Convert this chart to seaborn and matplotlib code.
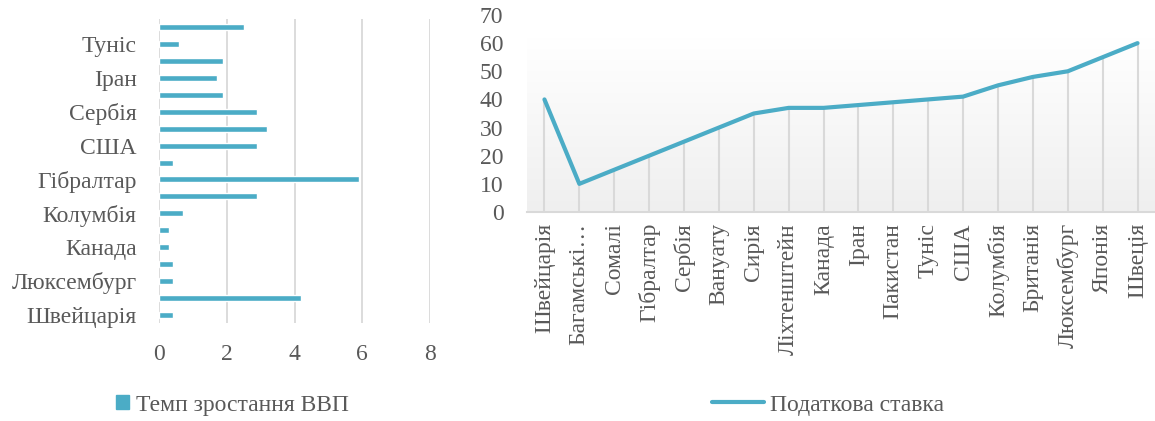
import numpy as np
import pandas as pd
import matplotlib
matplotlib.use("Agg")
import matplotlib.pyplot as plt
import seaborn as sns
from matplotlib.colors import LinearSegmentedColormap
from matplotlib.patches import Patch
from matplotlib.lines import Line2D

# ---- data: bar chart (bottom to top) ----
bar_countries = ["Швейцарія", "Швеція", "Люксембург", "Японія", "Канада", "Британія",
                 "Колумбія", "Ліхтенштейн", "Гібралтар", "Пакистан", "США", "Сирія",
                 "Сербія", "Вануату", "Іран", "Сомалі", "Туніс", "Багамські острови"]
gdp_growth = [0.4, 4.2, 0.4, 0.4, 0.3, 0.3, 0.7, 2.9, 5.9, 0.4, 2.9, 3.2,
              2.9, 1.9, 1.7, 1.9, 0.6, 2.5]
gdp_ticks = [0, 2, 4, 6, 8]

# ---- data: line chart ----
line_countries = ["Швейцарія", "Багамські…", "Сомалі", "Гібралтар", "Сербія", "Вануату",
                  "Сирія", "Ліхтенштейн", "Канада", "Іран", "Пакистан", "Туніс", "США",
                  "Колумбія", "Британія", "Люксембург", "Японія", "Швеція"]
tax_rate = [40, 10, 15, 20, 25, 30, 35, 37, 37, 38, 39, 40, 41, 45, 48, 50, 55, 60]
tax_ticks = [0, 10, 20, 30, 40, 50, 60, 70]

sns.set_theme(style="white")
plt.rcParams["font.family"] = ["Liberation Serif", "DejaVu Serif"]

TEXT = "#595959"
COLOR = "#4BACC6"
GRID = "#d9d9d9"
FS = 17

fig = plt.figure(figsize=(11.55, 4.21), dpi=100)

# ---------------- left: horizontal bars ----------------
ax1 = fig.add_axes([159 / 1155, (421 - 323) / 421, (430 - 159) / 1155, (323 - 19) / 421])
df1 = pd.DataFrame({"country": bar_countries, "gdp": gdp_growth})
n1 = len(bar_countries)
sns.barplot(data=df1, y="country", x="gdp", order=bar_countries[::-1], orient="h",
            color=COLOR, saturation=1, width=0.36, ax=ax1, zorder=3)
ax1.set_xlim(gdp_ticks[0], gdp_ticks[-1])
ax1.set_xticks(gdp_ticks)
ax1.set_xticklabels([str(t) for t in gdp_ticks])
ax1.set_ylim(n1 - 0.5, -0.5)
ax1.set_yticks([n1 - 1 - k for k in range(0, n1, 2)])
ax1.set_yticklabels(bar_countries[::2])
ax1.grid(axis="x", color=GRID, lw=1.3, zorder=0)
ax1.grid(axis="y", visible=False)
for s in ax1.spines.values():
    s.set_visible(False)
ax1.set_xlabel("")
ax1.set_ylabel("")
ax1.tick_params(axis="both", length=0, labelsize=FS, labelcolor=TEXT)
ax1.tick_params(axis="x", pad=15)
ax1.tick_params(axis="y", pad=16)

fig.legend(handles=[Patch(color=COLOR, label="Темп зростання ВВП")],
           loc="center", bbox_to_anchor=(232 / 1155, 1 - 405 / 421), frameon=False,
           fontsize=FS, labelcolor=TEXT, handlelength=0.55, handleheight=0.55,
           handletextpad=0.3, borderaxespad=0)

# ---------------- right: line ----------------
ax2 = fig.add_axes([527 / 1155, (421 - 212) / 421, (1155 - 527) / 1155, (212 - 15) / 421])
n2 = len(line_countries)
df2 = pd.DataFrame({"country": line_countries, "tax": tax_rate})
sns.lineplot(data=df2, x="country", y="tax", sort=False, color=COLOR, lw=3.0,
             ax=ax2, zorder=4)
ax2.vlines(np.arange(n2), 0, df2["tax"], color=GRID, lw=1.5, zorder=2)
grad = LinearSegmentedColormap.from_list("g", ["#efefef", "#ffffff"])
ax2.imshow(np.linspace(0, 1, 256).reshape(-1, 1), extent=[-0.5, n2 - 0.5, 0, 61.5],
           origin="lower", aspect="auto", cmap=grad, zorder=0)
ax2.set_xlim(-0.5, n2 - 0.5)
ax2.set_ylim(tax_ticks[0], tax_ticks[-1])
ax2.set_yticks(tax_ticks)
ax2.set_xticks(np.arange(n2))
ax2.set_xticklabels(line_countries, rotation=90)
for name, s in ax2.spines.items():
    s.set_visible(name == "bottom")
ax2.spines["bottom"].set_color(GRID)
ax2.spines["bottom"].set_linewidth(1.5)
ax2.set_xlabel("")
ax2.set_ylabel("")
ax2.tick_params(axis="both", length=0, labelsize=FS, labelcolor=TEXT)
ax2.tick_params(axis="x", pad=8)
ax2.tick_params(axis="y", pad=17)

fig.legend(handles=[Line2D([], [], color=COLOR, lw=3.0, label="Податкова ставка")],
           loc="center", bbox_to_anchor=(828 / 1155, 1 - 405 / 421), frameon=False,
           fontsize=FS, labelcolor=TEXT, handlelength=2.2, handletextpad=0.25,
           borderaxespad=0)

fig.savefig("out.png", dpi=100, facecolor="white")
